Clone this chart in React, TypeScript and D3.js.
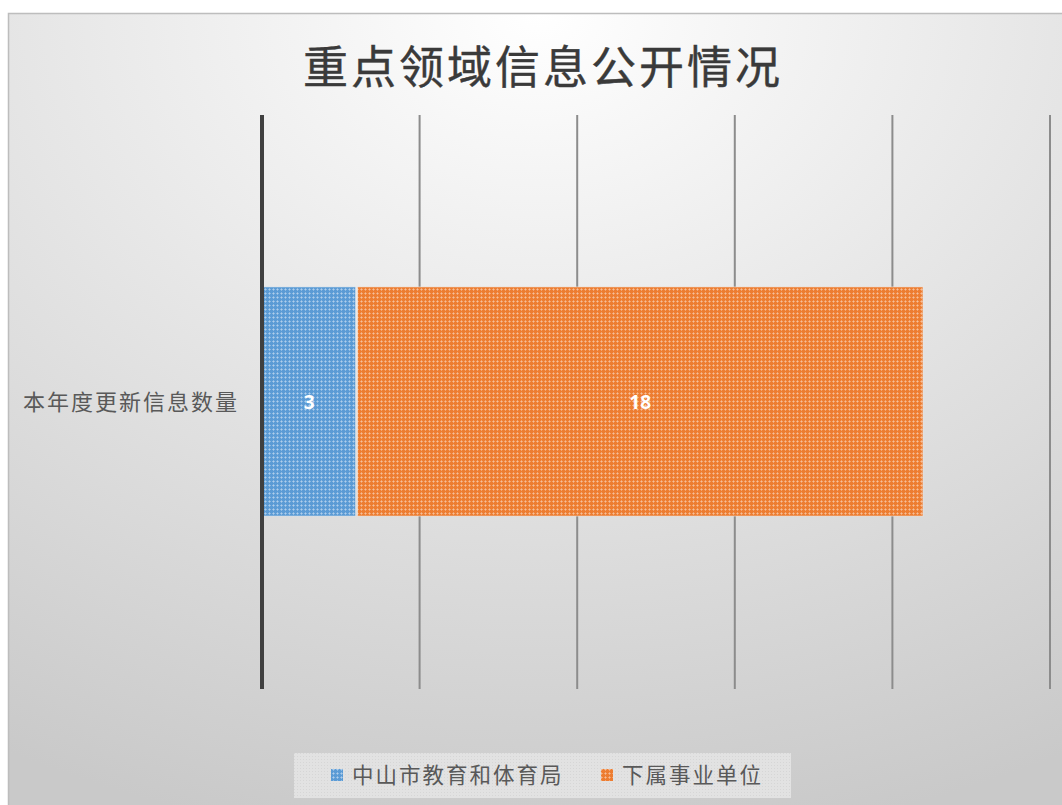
import React from "react";
import * as d3 from "d3";

const categories = ["本年度更新信息数量"];
const seriesNames = ["中山市教育和体育局", "下属事业单位"];
const seriesValues = [[3], [18]];
const xTicks = [0, 5, 10, 15, 20, 25];
const title = "重点领域信息公开情况";
const colors = ["#5b9bd5", "#ed7d31"];

export default function App() {
  const W = 1062, H = 805;
  const x = d3.scaleLinear().domain([0, 25]).range([262, 1050]);
  const y = d3.scaleBand().domain(categories).range([115, 688]).paddingInner(0.6).paddingOuter(0.3);
  const stack = d3.stack<any>().keys(seriesNames.map((_, i) => String(i)));
  const rows = categories.map((c, ci) => {
    const r: any = { cat: c };
    seriesValues.forEach((s, si) => (r[String(si)] = s[ci]));
    return r;
  });
  const stacked = stack(rows);
  const font = "'Noto Sans CJK SC', 'Microsoft YaHei', sans-serif";
  const legendItems = [
    { x: 331, tx: 352 },
    { x: 601, tx: 622 },
  ];
  return (
    <svg width={W} height={H} style={{ position: "absolute", left: 0, top: 0 }}>
      <defs>
        <radialGradient id="bg" cx="0.5" cy="0" r="1.05" fx="0.5" fy="0">
          <stop offset="0" stopColor="#ffffff" />
          <stop offset="0.35" stopColor="#ececec" />
          <stop offset="1" stopColor="#c9c9c9" />
        </radialGradient>
        {colors.map((c, i) => (
          <pattern key={i} id={"pat" + i} width="4" height="4" patternUnits="userSpaceOnUse">
            <rect width="4" height="4" fill={c} />
            <rect x="1" y="0" width="1" height="3" fill="#ffffff" opacity="0.3" />
            <rect x="0" y="1" width="3" height="1" fill="#ffffff" opacity="0.3" />
          </pattern>
        ))}
        <pattern id="legpat" width="3" height="3" patternUnits="userSpaceOnUse">
          <rect width="3" height="3" fill="#e2e2e2" />
          <rect width="1" height="1" fill="#d6d6d6" />
        </pattern>
      </defs>
      <rect x={0} y={0} width={W} height={H} fill="#ffffff" />
      <rect x={8.5} y={13.5} width={1060} height={800} fill="url(#bg)" stroke="#bdbdbd" strokeWidth={1.5} />
      <text x={543} y={84} textAnchor="middle" fontFamily={font} fontSize={45} fill="#3a3a3a"
        stroke="#3a3a3a" strokeWidth={0.4} style={{ letterSpacing: "3px" }}>{title}</text>
      {xTicks.slice(1).map((t) => (
        <line key={t} x1={x(t)} x2={x(t)} y1={115} y2={689} stroke="#8c8c8c" strokeWidth={2} />
      ))}
      {stacked.map((s, si) =>
        s.map((d, di) => (
          <g key={si + "-" + di}>
            <rect x={x(d[0]) + 1} y={y(categories[di])!} width={x(d[1]) - x(d[0]) - 2}
              height={y.bandwidth()} fill={`url(#pat${si})`} stroke="#f0f0f0" strokeOpacity={0.5} strokeWidth={1} />
            <text x={(x(d[0]) + x(d[1])) / 2} y={y(categories[di])! + y.bandwidth() / 2 + 7}
              textAnchor="middle" fontFamily="'Open Sans', Lato, sans-serif" fontWeight="bold" fontSize={19} fill="#ffffff">
              {seriesValues[si][di]}
            </text>
          </g>
        ))
      )}
      <line x1={262} x2={262} y1={115} y2={689} stroke="#404040" strokeWidth={4} />
      {categories.map((c) => (
        <text key={c} x={239} y={y(c)! + y.bandwidth() / 2 + 8} textAnchor="end" fontFamily={font}
          fontSize={22} fill="#595959" style={{ letterSpacing: "2px" }}>{c}</text>
      ))}
      <rect x={294} y={753} width={497} height={45} fill="url(#legpat)" />
      {seriesNames.map((n, i) => (
        <g key={n}>
          <rect x={legendItems[i].x} y={769} width={12} height={12} fill={`url(#pat${i})`} />
          <text x={legendItems[i].tx} y={783} fontFamily={font} fontSize={21.5} fill="#595959"
            style={{ letterSpacing: "2px" }}>{n}</text>
        </g>
      ))}
    </svg>
  );
}
